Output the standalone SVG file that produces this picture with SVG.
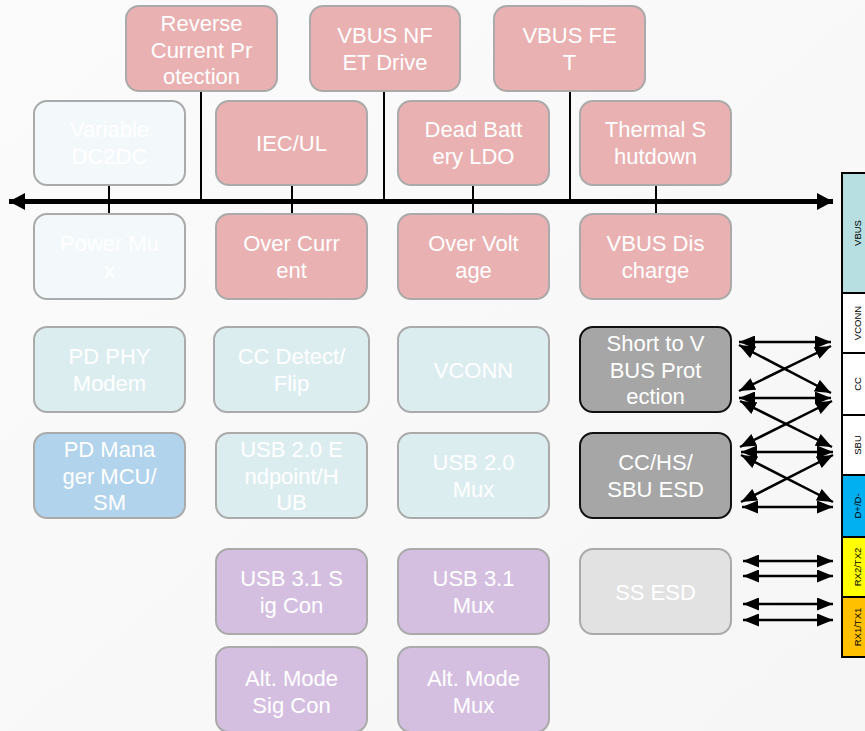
<svg xmlns="http://www.w3.org/2000/svg" width="865" height="731" viewBox="0 0 865 731">
<defs>
<marker id="ah" markerUnits="userSpaceOnUse" markerWidth="17" markerHeight="13" refX="16" refY="6.5" orient="auto-start-reverse"><path d="M0,0 L16,6.5 L0,13 Z" fill="#000"/></marker>
<marker id="bh" markerUnits="userSpaceOnUse" markerWidth="18" markerHeight="18" refX="16" refY="8.5" orient="auto-start-reverse"><path d="M0,0 L16,8.5 L0,17 Z" fill="#000"/></marker>
<linearGradient id="bg" x1="0" y1="0" x2="1" y2="1"><stop offset="0" stop-color="#fbfbfb"/><stop offset="1" stop-color="#f6f6f6"/></linearGradient>
</defs>
<style>
.b rect{stroke:#aaaaaa;stroke-width:2}
.pink rect{fill:#e9b1b1}
.pale rect{fill:#f3f9fa}
.cyan rect{fill:#dcedf0}
.blue rect{fill:#b2d3ec}
.purp rect{fill:#d5bfe1}
.dark rect{fill:#a6a6a6;stroke:#111111}
.lgry rect{fill:#e2e2e2}
.b text{font-family:"Liberation Sans",Arial,sans-serif;font-size:22px;fill:#ffffff;text-anchor:middle}
.c line{stroke:#000;stroke-width:2}
.sa line{stroke:#000;stroke-width:2.5;marker-start:url(#ah);marker-end:url(#ah)}
.pin rect{stroke:#000;stroke-width:2}
.pin text{font-family:"Liberation Sans",Arial,sans-serif;font-size:9.5px;fill:#000;text-anchor:middle}
</style>
<rect x="0" y="0" width="865" height="731" fill="url(#bg)"/>

<g id="connectors">
<g class="c">
<line x1="201" y1="91" x2="201" y2="201"/>
<line x1="384" y1="91" x2="384" y2="201"/>
<line x1="570" y1="91" x2="570" y2="201"/>
<line x1="109" y1="185" x2="109" y2="214"/>
<line x1="292" y1="185" x2="292" y2="214"/>
<line x1="473" y1="185" x2="473" y2="214"/>
<line x1="656" y1="185" x2="656" y2="214"/>
</g>
<line x1="9" y1="201.5" x2="833" y2="201.5" stroke="#000" stroke-width="5" marker-start="url(#bh)" marker-end="url(#bh)"/>
<g class="sa">
<line x1="739" y1="342" x2="831" y2="342"/>
<line x1="739" y1="345" x2="831" y2="393"/>
<line x1="739" y1="391" x2="831" y2="346"/>
<line x1="739" y1="398" x2="831" y2="398"/>
<line x1="740" y1="401" x2="832" y2="447"/>
<line x1="740" y1="447" x2="832" y2="401"/>
<line x1="741" y1="452" x2="833" y2="452"/>
<line x1="741" y1="455" x2="833" y2="502"/>
<line x1="741" y1="502" x2="833" y2="455"/>
<line x1="742" y1="507" x2="833" y2="507"/>
<line x1="743" y1="561" x2="833" y2="561"/>
<line x1="743" y1="576" x2="833" y2="576"/>
<line x1="743" y1="604" x2="833" y2="604"/>
<line x1="743" y1="620" x2="833" y2="620"/>
</g>
</g>

<g id="n-reverse" class="b pink"><rect x="126" y="6" width="151" height="85" rx="13"/><text><tspan x="201.5" y="31">Reverse</tspan><tspan x="201.5" y="57.5">Current Pr</tspan><tspan x="201.5" y="84">otection</tspan></text></g>
<g id="n-nfet" class="b pink"><rect x="310" y="6" width="150" height="85" rx="13"/><text><tspan x="385" y="43">VBUS NF</tspan><tspan x="385" y="70">ET Drive</tspan></text></g>
<g id="n-fet" class="b pink"><rect x="494" y="6" width="151" height="85" rx="13"/><text><tspan x="569.5" y="43">VBUS FE</tspan><tspan x="569.5" y="70">T</tspan></text></g>

<g id="n-dc2dc" class="b pale"><rect x="34" y="101" width="151" height="84" rx="13"/><text><tspan x="109.5" y="137">Variable</tspan><tspan x="109.5" y="164">DC2DC</tspan></text></g>
<g id="n-iec" class="b pink"><rect x="216" y="101" width="151" height="84" rx="13"/><text><tspan x="291.5" y="151">IEC/UL</tspan></text></g>
<g id="n-ldo" class="b pink"><rect x="398" y="101" width="151" height="84" rx="13"/><text><tspan x="473.5" y="137">Dead Batt</tspan><tspan x="473.5" y="164">ery LDO</tspan></text></g>
<g id="n-thermal" class="b pink"><rect x="580" y="101" width="151" height="84" rx="13"/><text><tspan x="655.5" y="137">Thermal S</tspan><tspan x="655.5" y="164">hutdown</tspan></text></g>

<g id="n-powermux" class="b pale"><rect x="34" y="214" width="151" height="85" rx="13"/><text><tspan x="109.5" y="251">Power Mu</tspan><tspan x="109.5" y="278">x</tspan></text></g>
<g id="n-oc" class="b pink"><rect x="216" y="214" width="151" height="85" rx="13"/><text><tspan x="291.5" y="251">Over Curr</tspan><tspan x="291.5" y="278">ent</tspan></text></g>
<g id="n-ov" class="b pink"><rect x="398" y="214" width="151" height="85" rx="13"/><text><tspan x="473.5" y="251">Over Volt</tspan><tspan x="473.5" y="278">age</tspan></text></g>
<g id="n-dis" class="b pink"><rect x="580" y="214" width="151" height="85" rx="13"/><text><tspan x="655.5" y="251">VBUS Dis</tspan><tspan x="655.5" y="278">charge</tspan></text></g>

<g id="n-phy" class="b cyan"><rect x="34" y="327" width="151" height="85" rx="13"/><text><tspan x="109.5" y="364">PD PHY</tspan><tspan x="109.5" y="391">Modem</tspan></text></g>
<g id="n-ccdet" class="b cyan"><rect x="214" y="327" width="155" height="85" rx="13"/><text><tspan x="291.5" y="364">CC Detect/</tspan><tspan x="291.5" y="391">Flip</tspan></text></g>
<g id="n-vconn" class="b cyan"><rect x="398" y="327" width="151" height="85" rx="13"/><text><tspan x="473.5" y="377.5">VCONN</tspan></text></g>
<g id="n-short" class="b dark"><rect x="580" y="327" width="151" height="85" rx="13"/><text><tspan x="655.5" y="351">Short to V</tspan><tspan x="655.5" y="377.5">BUS Prot</tspan><tspan x="655.5" y="404">ection</tspan></text></g>

<g id="n-pdmgr" class="b blue"><rect x="34" y="433" width="151" height="85" rx="13"/><text><tspan x="109.5" y="457">PD Mana</tspan><tspan x="109.5" y="483.5">ger MCU/</tspan><tspan x="109.5" y="510">SM</tspan></text></g>
<g id="n-usb2ep" class="b cyan"><rect x="216" y="433" width="151" height="85" rx="13"/><text><tspan x="291.5" y="457">USB 2.0 E</tspan><tspan x="291.5" y="483.5">ndpoint/H</tspan><tspan x="291.5" y="510">UB</tspan></text></g>
<g id="n-usb2mux" class="b cyan"><rect x="398" y="433" width="151" height="85" rx="13"/><text><tspan x="473.5" y="470">USB 2.0</tspan><tspan x="473.5" y="497">Mux</tspan></text></g>
<g id="n-ccesd" class="b dark"><rect x="580" y="433" width="151" height="85" rx="13"/><text><tspan x="655.5" y="470">CC/HS/</tspan><tspan x="655.5" y="497">SBU ESD</tspan></text></g>

<g id="n-usb3sig" class="b purp"><rect x="216" y="549" width="151" height="85" rx="13"/><text><tspan x="291.5" y="586">USB 3.1 S</tspan><tspan x="291.5" y="613">ig Con</tspan></text></g>
<g id="n-usb3mux" class="b purp"><rect x="398" y="549" width="151" height="85" rx="13"/><text><tspan x="473.5" y="586">USB 3.1</tspan><tspan x="473.5" y="613">Mux</tspan></text></g>
<g id="n-ssesd" class="b lgry"><rect x="580" y="549" width="151" height="85" rx="13"/><text><tspan x="655.5" y="599.5">SS ESD</tspan></text></g>

<g id="n-altsig" class="b purp"><rect x="216" y="647" width="151" height="85" rx="13"/><text><tspan x="291.5" y="686">Alt. Mode</tspan><tspan x="291.5" y="713">Sig Con</tspan></text></g>
<g id="n-altmux" class="b purp"><rect x="398" y="647" width="151" height="85" rx="13"/><text><tspan x="473.5" y="686">Alt. Mode</tspan><tspan x="473.5" y="713">Mux</tspan></text></g>

<g id="n-pins" class="pin">
<rect x="842" y="173" width="30" height="120" fill="#b7dfe1"/>
<rect x="842" y="293" width="30" height="60" fill="#ffffff"/>
<rect x="842" y="353" width="30" height="62" fill="#ffffff"/>
<rect x="842" y="415" width="30" height="60" fill="#ffffff"/>
<rect x="842" y="475" width="30" height="62" fill="#00b0f0"/>
<rect x="842" y="537" width="30" height="60" fill="#ffff00"/>
<rect x="842" y="597" width="30" height="60" fill="#ffc000"/>
<text transform="translate(861,233) rotate(-90)">VBUS</text>
<text transform="translate(861,323) rotate(-90)">VCONN</text>
<text transform="translate(861,384) rotate(-90)">CC</text>
<text transform="translate(861,445) rotate(-90)">SBU</text>
<text transform="translate(861,506) rotate(-90)">D+/D-</text>
<text transform="translate(861,567) rotate(-90)">RX2/TX2</text>
<text transform="translate(861,627) rotate(-90)">RX1/TX1</text>
</g>
</svg>
